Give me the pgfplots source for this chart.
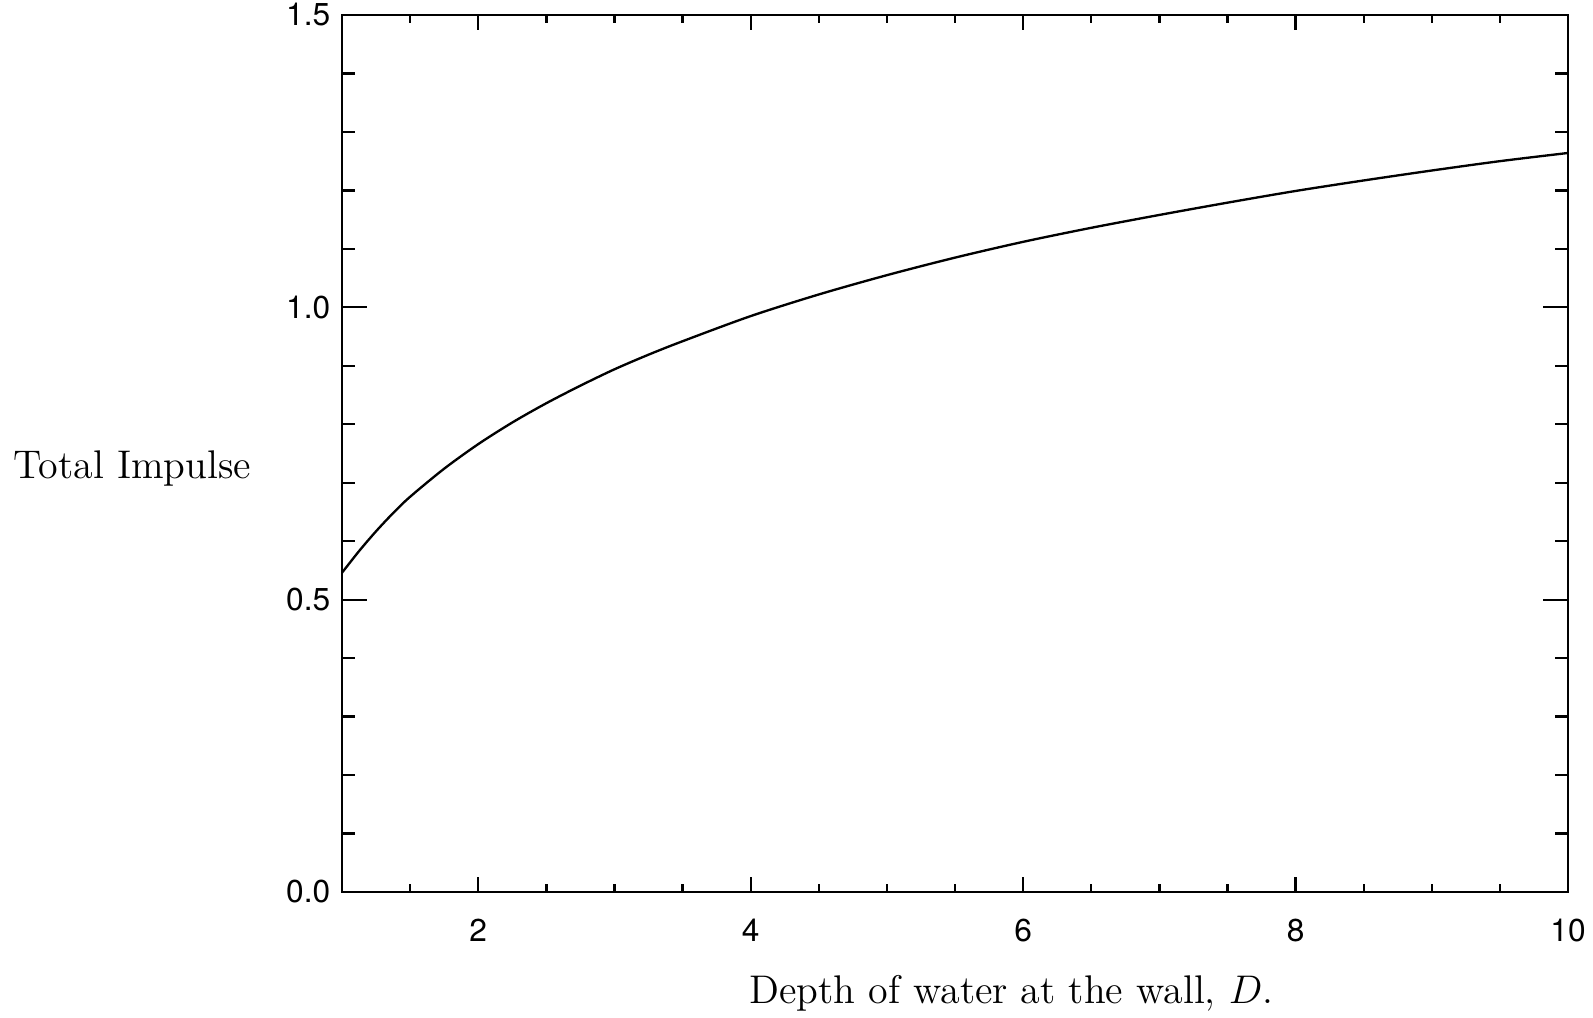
\documentclass[border=0pt]{standalone}
\usepackage{fontspec}
\usepackage{pgfplots}
\pgfplotsset{compat=1.18}
\newfontfamily\heros{TeX Gyre Heros}

% total impulse against depth of water at the wall
\pgfplotstableread{
D      I
1.000  0.546
1.125  0.583
1.250  0.617
1.375  0.648
1.500  0.676
1.750  0.724
2.000  0.766
2.250  0.803
2.500  0.836
2.750  0.866
3.000  0.894
3.250  0.919
3.500  0.942
4.000  0.985
4.500  1.022
5.000  1.055
5.500  1.085
6.000  1.112
6.500  1.136
7.000  1.158
7.500  1.179
8.000  1.199
8.500  1.217
9.000  1.234
9.500  1.250
10.00  1.264
}\impulse

\begin{document}
\begin{tikzpicture}
\path[use as bounding box] (-102.6pt,-37.5pt) rectangle (375.3pt,267.6pt);
\pgfplotsset{
  common/.style={
    at={(0,0)}, anchor=south west,
    scale only axis, width=367.8pt, height=263.1pt,
    xmin=1, xmax=10, ymin=0, ymax=1.5,
    axis line style={line width=0.8pt},
    tick style={line width=0.7pt, black},
    tick align=inside,
    /pgf/number format/assume math mode=true,
    tick label style={font=\heros\fontsize{9.5}{9.5}\selectfont},
  }
}
\begin{axis}[common,
  xtick={2,4,6,8,10},
  minor xtick={1.5,2.5,3,3.5,4.5,5,5.5,6.5,7,7.5,8.5,9,9.5},
  ytick=\empty,
  major tick length=4.5pt, minor tick length=2.4pt,
  xticklabel style={yshift=-4.5pt},
  xlabel={Depth of water at the wall, $D$.},
  xlabel style={font=\fontsize{12}{12}\selectfont, at={(axis description cs:0.546,-0.115)}, anchor=center},
]
\addplot[black, line width=0.7pt, smooth] table[x=D, y=I] {\impulse};
\end{axis}
\begin{axis}[common,
  xtick=\empty,
  ytick={0,0.5,1.0,1.5},
  minor ytick={0.1,0.2,0.3,0.4,0.6,0.7,0.8,0.9,1.1,1.2,1.3,1.4},
  yticklabel style={/pgf/number format/.cd, fixed, fixed zerofill, precision=1},
  major tick length=7.5pt, minor tick length=3.9pt,
  ylabel={Total Impulse},
  ylabel style={font=\fontsize{12}{12}\selectfont, at={(axis description cs:-0.171,0.483)}, rotate=-90, anchor=center},
]
\end{axis}
\end{tikzpicture}
\end{document}
